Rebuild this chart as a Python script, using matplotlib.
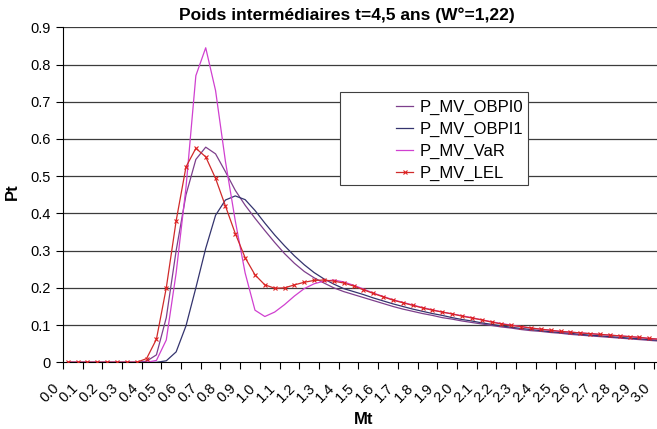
import numpy as np
import matplotlib
matplotlib.use("Agg")
import matplotlib.pyplot as plt
import matplotlib.transforms as mtrans
from matplotlib.patches import Rectangle

plt.rcParams['font.family'] = ['Liberation Sans', 'DejaVu Sans']

# categories Mt (0.00 .. 3.00 step 0.05)
mt = np.arange(61) * 0.05

obpi0 = [0, 0, 0, 0, 0, 0, 0, 0, 0.003, 0.02, 0.12, 0.30, 0.45, 0.545, 0.578, 0.56,
         0.512, 0.462, 0.422, 0.387, 0.354, 0.322, 0.292, 0.266, 0.244, 0.227, 0.213, 0.2,
         0.19, 0.182, 0.174, 0.166, 0.158, 0.15, 0.143, 0.137, 0.131, 0.126, 0.12, 0.116,
         0.111, 0.107, 0.103, 0.099, 0.095, 0.092, 0.088, 0.085, 0.083, 0.08, 0.078, 0.075,
         0.073, 0.071, 0.069, 0.067, 0.065, 0.063, 0.061, 0.059, 0.057]
obpi1 = [0, 0, 0, 0, 0, 0, 0, 0, 0, 0, 0.004, 0.028, 0.098, 0.2, 0.306, 0.395,
         0.436, 0.447, 0.437, 0.408, 0.374, 0.342, 0.313, 0.286, 0.262, 0.241, 0.224, 0.21,
         0.198, 0.19, 0.182, 0.173, 0.165, 0.157, 0.15, 0.143, 0.137, 0.131, 0.126, 0.12,
         0.115, 0.111, 0.106, 0.102, 0.098, 0.094, 0.091, 0.088, 0.085, 0.082, 0.08, 0.078,
         0.075, 0.073, 0.071, 0.069, 0.067, 0.065, 0.063, 0.061, 0.059]
var = [0, 0, 0, 0, 0, 0, 0, 0, 0, 0.005, 0.06, 0.24, 0.47, 0.77, 0.845, 0.73,
       0.54, 0.38, 0.24, 0.14, 0.123, 0.135, 0.155, 0.178, 0.198, 0.211, 0.218, 0.221,
       0.216, 0.207, 0.197, 0.186, 0.177, 0.168, 0.161, 0.154, 0.147, 0.141, 0.135, 0.13,
       0.125, 0.12, 0.114, 0.109, 0.104, 0.1, 0.096, 0.092, 0.089, 0.086, 0.083, 0.081,
       0.079, 0.077, 0.075, 0.073, 0.071, 0.069, 0.067, 0.064, 0.062]
lel = [0, 0, 0, 0, 0, 0, 0, 0, 0.01, 0.062, 0.2, 0.38, 0.525, 0.575, 0.552, 0.494,
       0.42, 0.346, 0.281, 0.235, 0.208, 0.199, 0.2, 0.208, 0.215, 0.22, 0.221, 0.218,
       0.213, 0.205, 0.195, 0.185, 0.176, 0.167, 0.16, 0.153, 0.146, 0.14, 0.135, 0.13,
       0.124, 0.119, 0.114, 0.108, 0.103, 0.099, 0.096, 0.092, 0.089, 0.086, 0.083, 0.081,
       0.079, 0.077, 0.075, 0.073, 0.071, 0.069, 0.067, 0.064, 0.062]

tick_labels = ["%.1f" % v for v in np.arange(31) * 0.1]

W, H = 657, 429
fig = plt.figure(figsize=(W / 100, H / 100), dpi=100)
ax = fig.add_axes([62.8 / W, 1 - 362.3 / H, (664 - 62.8) / W, 335 / H])

for y in np.arange(1, 10) * 0.1:
    ax.axhline(y, color='#3c3c3c', lw=0.9, zorder=1)

ax.plot(mt, obpi0, color='#7d3f8c', lw=0.9, label='P_MV_OBPI0', zorder=3)
ax.plot(mt, obpi1, color='#34346e', lw=0.9, label='P_MV_OBPI1', zorder=3)
ax.plot(mt, var, color='#d040d0', lw=0.9, label='P_MV_VaR', zorder=3)
ax.plot(mt, lel, color='#d02a2a', lw=0.9, marker='x', ms=3.5, mew=0.8,
        mec='#e02020', label='P_MV_LEL', zorder=4)

ax.set_xlim(-0.025, 3.025)
ax.set_ylim(0, 0.9)
ax.set_yticks(np.arange(10) * 0.1)
ax.set_yticklabels(['0'] + ["%.1f" % v for v in np.arange(1, 10) * 0.1], fontsize=10.5)

ax.set_xticks(np.arange(31) * 0.1 - 0.025)
ax.set_xticklabels([])
ax.set_xticks(np.arange(31) * 0.1, tick_labels, minor=True)
ax.tick_params(axis='x', which='minor', length=0, pad=6, labelsize=10.5)
ax.tick_params(axis='both', which='major', direction='out', length=5, width=0.8, color='black')
shift = mtrans.ScaledTranslation(-11 / 100, -15 / 100, fig.dpi_scale_trans)
for lab in ax.get_xticklabels(minor=True):
    lab.set_rotation(45)
    lab.set_rotation_mode('anchor')
    lab.set_ha('right')
    lab.set_va('center')
    lab.set_transform(lab.get_transform() + shift)

for s in ['top', 'right']:
    ax.spines[s].set_visible(False)
ax.spines['left'].set_linewidth(0.8)
ax.spines['bottom'].set_linewidth(0.8)

fig.text(347 / W, 1 - 15 / H, 'Poids intermédiaires t=4,5 ans (W°=1,22)',
         ha='center', va='center', fontsize=12.5, fontweight='bold')
fig.text(12 / W, 1 - 192 / H, 'Pt', rotation=90, ha='center', va='center',
         fontsize=12, fontweight='bold')
fig.text(364 / W, 1 - 419 / H, 'Mt', ha='center', va='center',
         fontsize=12, fontweight='bold')

# legend box
box = Rectangle((340 / W, 1 - 185 / H), 188 / W, 93 / H,
                transform=fig.transFigure, fill=True, fc='white',
                ec='#404040', lw=0.8, zorder=5, clip_on=False)
ax.add_patch(box)
leg = ax.legend(loc='upper left', bbox_to_anchor=(383 / W, 1 - 87 / H),
                bbox_transform=fig.transFigure, frameon=False, fontsize=12,
                handlelength=1.0, handletextpad=0.4, labelspacing=0.4,
                borderpad=0.3)
leg.set_zorder(6)

fig.savefig('out.png', dpi=100)
